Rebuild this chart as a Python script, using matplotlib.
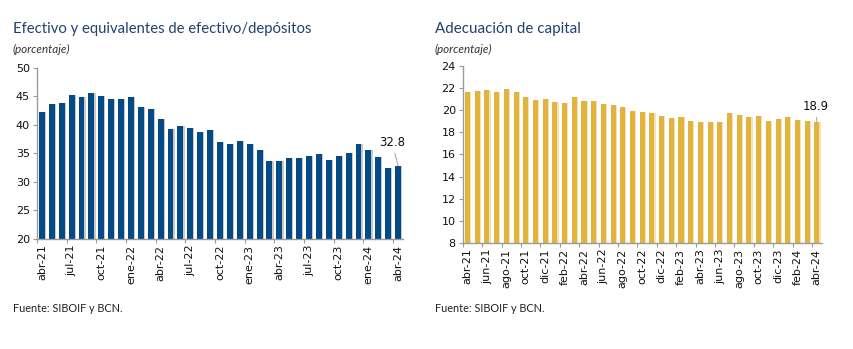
import matplotlib
matplotlib.use("Agg")
import matplotlib.pyplot as plt

months = ["abr-21","may-21","jun-21","jul-21","ago-21","sep-21","oct-21","nov-21","dic-21",
          "ene-22","feb-22","mar-22","abr-22","may-22","jun-22","jul-22","ago-22","sep-22",
          "oct-22","nov-22","dic-22","ene-23","feb-23","mar-23","abr-23","may-23","jun-23",
          "jul-23","ago-23","sep-23","oct-23","nov-23","dic-23","ene-24","feb-24","mar-24","abr-24"]

efectivo = [42.3, 43.6, 43.8, 45.2, 44.9, 45.6, 45.1, 44.5, 44.6, 44.9, 43.1, 42.8,
            41.0, 39.3, 39.8, 39.5, 38.8, 39.1, 37.0, 36.6, 37.1, 36.7, 35.6, 33.6,
            33.6, 34.2, 34.2, 34.6, 34.9, 33.8, 34.6, 35.1, 36.6, 35.5, 34.4, 32.5, 32.8]

capital = [21.6, 21.7, 21.8, 21.6, 21.9, 21.6, 21.2, 20.9, 21.0, 20.7, 20.6, 21.2,
           20.85, 20.85, 20.55, 20.45, 20.3, 19.95, 19.8, 19.7, 19.5, 19.3, 19.4, 19.05,
           18.9, 18.9, 18.9, 19.75, 19.55, 19.35, 19.45, 19.0, 19.2, 19.35, 19.1, 19.0, 18.9]

left_title = "Efectivo y equivalentes de efectivo/depósitos"
right_title = "Adecuación de capital"
subtitle = "(porcentaje)"
source = "Fuente: SIBOIF y BCN."

BLUE = "#044a86"
GOLD = "#e2b43e"
TITLE_C = "#23406f"
SPINE = "#9a9a9a"

fig = plt.figure(figsize=(8.54, 3.49), dpi=100)
fig.patch.set_facecolor("white")

n = len(months)
x = list(range(n))

def style_axes(ax, ylim, yticks, step):
    ax.set_xlim(-0.5, n - 0.5)
    ax.set_ylim(*ylim)
    ax.set_yticks(yticks)
    ax.set_yticklabels([str(v) for v in yticks], fontsize=8, color="#111111")
    for s in ["top", "right"]:
        ax.spines[s].set_visible(False)
    for s in ["left", "bottom"]:
        ax.spines[s].set_color(SPINE)
        ax.spines[s].set_linewidth(1.0)
    ax.tick_params(axis="y", length=3, color=SPINE, pad=2)
    ax.set_xticks([i - 0.5 for i in range(0, n, step)])
    ax.set_xticklabels([])
    ax.tick_params(axis="x", which="major", length=3, color=SPINE)
    ax.set_xticks(list(range(0, n, step)), minor=True)
    ax.set_xticklabels([months[i] for i in range(0, n, step)], minor=True,
                       rotation=90, fontsize=8, color="#111111")
    ax.tick_params(axis="x", which="minor", length=0, pad=4)

# Left chart
ax1 = fig.add_axes([0.0433, 0.3152, 0.4286, 0.4908])
ax1.bar([i + 0.12 for i in x], efectivo, width=0.6, color="#c9c9c9", zorder=1)
ax1.bar(x, efectivo, width=0.6, color=BLUE, zorder=2)
style_axes(ax1, (20, 50), [20, 25, 30, 35, 40, 45, 50], 3)
ax1.annotate(f"{efectivo[-1]:.1f}", xy=(n - 1, efectivo[-1]), xytext=(n - 1.6, 36.9),
             ha="center", va="center", fontsize=8.5, color="#111111",
             arrowprops=dict(arrowstyle="-", color="#a0a0a0", lw=0.7, shrinkA=1, shrinkB=0),
             zorder=5)

# Right chart
ax2 = fig.add_axes([0.5418, 0.3037, 0.4204, 0.5081])
ax2.bar([i + 0.1 for i in x], capital, width=0.55, color="#f3e2b6", zorder=1)
ax2.bar(x, capital, width=0.52, color=GOLD, zorder=2)
style_axes(ax2, (8, 24), [8, 10, 12, 14, 16, 18, 20, 22, 24], 2)
ax2.annotate(f"{capital[-1]:.1f}", xy=(n - 1, capital[-1]), xytext=(n - 1.1, 20.3),
             ha="center", va="center", fontsize=8.5, color="#111111",
             arrowprops=dict(arrowstyle="-", color="#a0a0a0", lw=0.7, shrinkA=1, shrinkB=0),
             zorder=5)

# Titles and notes
fig.text(13 / 854, 1 - 29 / 349, left_title, fontsize=10.7, color=TITLE_C,
         family="Lato", ha="left", va="center")
fig.text(435 / 854, 1 - 29 / 349, right_title, fontsize=10.9, color=TITLE_C,
         family="Lato", ha="left", va="center")
for xp in (13, 435):
    fig.text(xp / 854, 1 - 49 / 349, subtitle, fontsize=8.4, color="#333333",
             style="italic", family="Lato", ha="left", va="center")
    fig.text(xp / 854, 1 - 309 / 349, source, fontsize=7.8, color="#222222",
             family="Lato", ha="left", va="center")

fig.savefig("out.png", dpi=100)
